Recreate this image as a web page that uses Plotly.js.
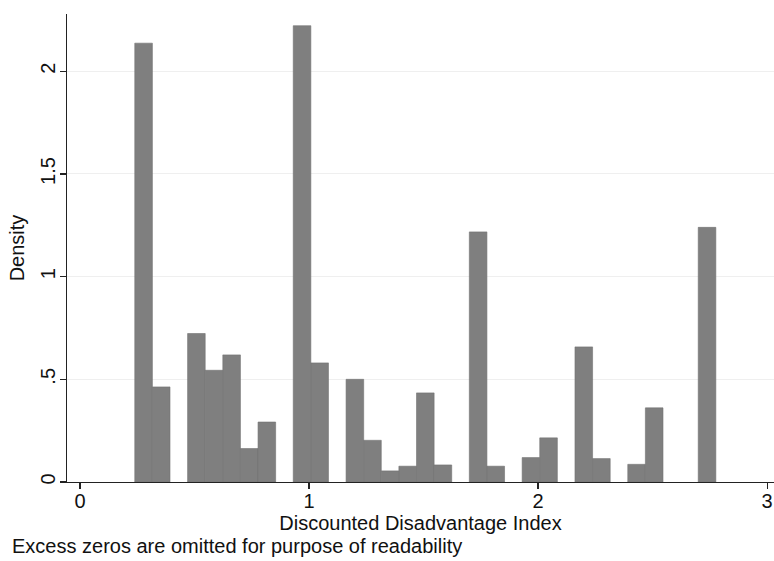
<!DOCTYPE html>
<html>
<head>
<meta charset="utf-8">
<script src="https://cdn.plot.ly/plotly-3.0.1.min.js"></script>
<style>html,body{margin:0;padding:0;background:#fff;}#chart{width:774px;height:561px;}</style>
</head>
<body>
<div id="chart"></div>
<script>
// Histogram bins (centres) of the Discounted Disadvantage Index, non-empty bins only
const binCenters = [0.2774, 0.3543, 0.5080, 0.5849, 0.6618, 0.7387, 0.8156,
  0.9693, 1.0462, 1.2000, 1.2768, 1.3537, 1.4306, 1.5075, 1.5844,
  1.7381, 1.8150, 1.9688, 2.0456, 2.1994, 2.2763, 2.4300, 2.5069, 2.7376];
const densities = [2.137, 0.463, 0.723, 0.544, 0.619, 0.163, 0.292,
  2.222, 0.580, 0.500, 0.203, 0.054, 0.077, 0.434, 0.083,
  1.218, 0.077, 0.119, 0.215, 0.658, 0.114, 0.086, 0.361, 1.240];
const binWidth = 0.07688;
const xTickVals = [0, 1, 2, 3];
const xTickText = ['0', '1', '2', '3'];
const yTickVals = [0, 0.5, 1, 1.5, 2];
const yTickText = ['0', '.5', '1', '1.5', '2'];

const font = 'Liberation Sans, Arial, Helvetica, sans-serif';

Plotly.newPlot('chart', [{
  type: 'bar',
  x: binCenters,
  y: densities,
  width: binCenters.map(() => binWidth),
  marker: {color: '#7f7f7f', line: {color: '#727272', width: 0.6}},
  hoverinfo: 'x+y'
}], {
  width: 774, height: 561,
  margin: {l: 67, r: 0, t: 14, b: 79},
  paper_bgcolor: '#ffffff',
  plot_bgcolor: '#ffffff',
  showlegend: false,
  bargap: 0,
  font: {family: font, size: 18, color: '#111'},
  xaxis: {
    range: [-0.057, 3.03],
    tickvals: xTickVals, ticktext: xTickText,
    ticks: 'outside', ticklen: 6, tickwidth: 1.2, tickcolor: '#222',
    ticklabelstandoff: -5,
    showline: true, linecolor: '#222', linewidth: 1.2,
    showgrid: false, zeroline: false,
    tickfont: {family: font, size: 20, color: '#111'},
    title: {text: 'Discounted Disadvantage Index', font: {family: font, size: 20, color: '#111'}, standoff: 0}
  },
  yaxis: {
    range: [0, 2.279],
    tickvals: yTickVals, ticktext: yTickText,
    tickangle: -90,
    ticks: 'outside', ticklen: 6, tickwidth: 1.2, tickcolor: '#222',
    ticklabelstandoff: -3,
    showline: true, linecolor: '#222', linewidth: 1.2,
    showgrid: true, gridcolor: '#efefef', gridwidth: 1,
    zeroline: false,
    tickfont: {family: font, size: 20, color: '#111'},
    title: {text: 'Density', font: {family: font, size: 20, color: '#111'}, standoff: 6}
  },
  annotations: [{
    text: 'Excess zeros are omitted for purpose of readability',
    xref: 'paper', yref: 'paper', x: -0.0806, y: -0.137,
    xanchor: 'left', yanchor: 'middle', showarrow: false,
    font: {family: font, size: 20, color: '#111'}
  }]
}, {displayModeBar: false, staticPlot: true});
</script>
</body>
</html>
